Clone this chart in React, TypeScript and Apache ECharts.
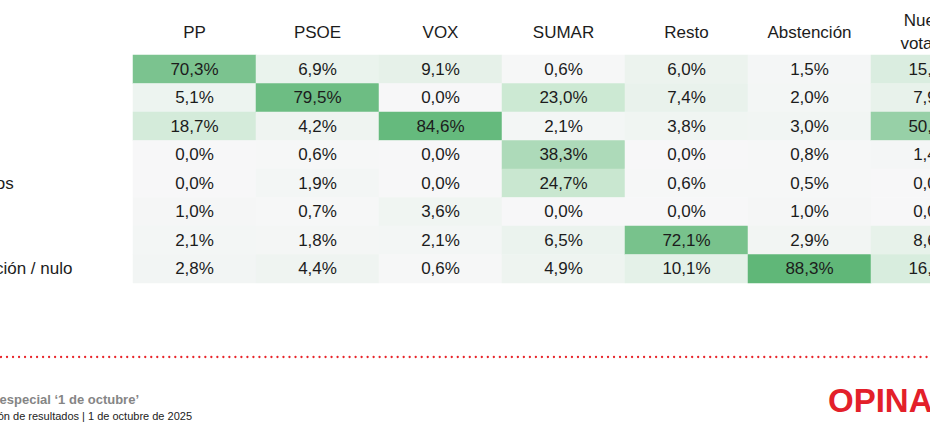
import React, { useEffect, useRef } from "react";
import * as echarts from "echarts";

// Column headers (recalled vote) and row labels (current vote intention)
const columns = ["PP", "PSOE", "VOX", "SUMAR", "Resto", "Abstención", "Nuevos\nvotantes"];
const rows = ["PP", "PSOE", "VOX", "Sumar", "Podemos", "SALF", "Resto", "Abstención / nulo"];

// Values per column, top row to bottom row (%)
const ppCol = [70.3, 5.1, 18.7, 0.0, 0.0, 1.0, 2.1, 2.8];
const psoeCol = [6.9, 79.5, 4.2, 0.6, 1.9, 0.7, 1.8, 4.4];
const voxCol = [9.1, 0.0, 84.6, 0.0, 0.0, 3.6, 2.1, 0.6];
const sumarCol = [0.6, 23.0, 2.1, 38.3, 24.7, 0.0, 6.5, 4.9];
const restoCol = [6.0, 7.4, 3.8, 0.0, 0.6, 0.0, 72.1, 10.1];
const abstCol = [1.5, 2.0, 3.0, 0.8, 0.5, 1.0, 2.9, 88.3];
const nuevosCol = [15.3, 7.9, 50.4, 1.4, 0.0, 0.0, 8.6, 16.4];

const allCols = [ppCol, psoeCol, voxCol, sumarCol, restoCol, abstCol, nuevosCol];

const footerTitle = "Encuesta especial ‘1 de octubre’";
const footerSub = "Presentación de resultados | 1 de octubre de 2025";
const logoText = "OPINA 360";

const FONT = "'Liberation Sans', Arial, Helvetica, sans-serif";

export default function App() {
  const ref = useRef<HTMLDivElement>(null);

  useEffect(() => {
    if (!ref.current) return;
    const chart = echarts.init(ref.current, null, { renderer: "svg" });

    const data: [number, number, number][] = [];
    allCols.forEach((col, xi) => {
      col.forEach((v, yi) => data.push([xi, yi, v]));
    });

    chart.setOption({
      animation: false,
      backgroundColor: "#ffffff",
      textStyle: { fontFamily: FONT },
      grid: {
        left: 133,
        top: 55,
        width: 861,
        height: 228,
        containLabel: false,
        outerBoundsMode: "none",
      },
      xAxis: {
        type: "category",
        position: "top",
        data: columns,
        axisLine: { show: false },
        axisTick: { show: false },
        splitArea: { show: false },
        axisLabel: {
          fontSize: 17,
          color: "#1c1c1c",
          fontFamily: FONT,
          verticalAlign: "middle",
          margin: 23,
          lineHeight: 23,
          interval: 0,
          hideOverlap: false,
        },
      },
      yAxis: {
        type: "category",
        inverse: true,
        data: rows,
        axisLine: { show: false },
        axisTick: { show: false },
        axisLabel: {
          fontSize: 17,
          color: "#1c1c1c",
          fontFamily: FONT,
          align: "left",
          margin: 191,
          interval: 0,
        },
      },
      visualMap: {
        show: false,
        min: 0,
        max: 90,
        calculable: false,
        inRange: {
          color: ["#f7f7f8", "#cde9d4", "#9fd4ae", "#7fc592", "#5db676"],
        },
      },
      series: [
        {
          type: "heatmap",
          data,
          label: {
            show: true,
            fontSize: 17,
            color: "#1c1c1c",
            fontFamily: FONT,
            formatter: (p: any) => p.value[2].toFixed(1).replace(".", ",") + "%",
          },
          itemStyle: { borderWidth: 0 },
          emphasis: { disabled: true },
        },
      ],
      graphic: [
        {
          type: "line",
          shape: { x1: 1, y1: 357, x2: 930, y2: 357 },
          style: { stroke: "#e8262b", lineWidth: 2.3, lineDash: [0.01, 6], lineCap: "round" },
        },
        {
          type: "text",
          x: 139,
          y: 399,
          style: {
            text: footerTitle,
            fontSize: 13,
            fontWeight: "bold",
            fontFamily: FONT,
            fill: "#858585",
            align: "right",
            verticalAlign: "middle",
          },
        },
        {
          type: "text",
          x: 192,
          y: 416,
          style: {
            text: footerSub,
            fontSize: 11,
            fontFamily: FONT,
            fill: "#222222",
            align: "right",
            verticalAlign: "middle",
          },
        },
        {
          type: "text",
          x: 828,
          y: 400,
          style: {
            text: logoText,
            fontSize: 33,
            fontWeight: "bold",
            fontFamily: FONT,
            fill: "#e3202a",
            align: "left",
            verticalAlign: "middle",
          },
        },
      ],
    });

    return () => chart.dispose();
  }, []);

  return (
    <div
      ref={ref}
      style={{ position: "fixed", left: 0, top: 0, width: 930, height: 422 }}
    />
  );
}
